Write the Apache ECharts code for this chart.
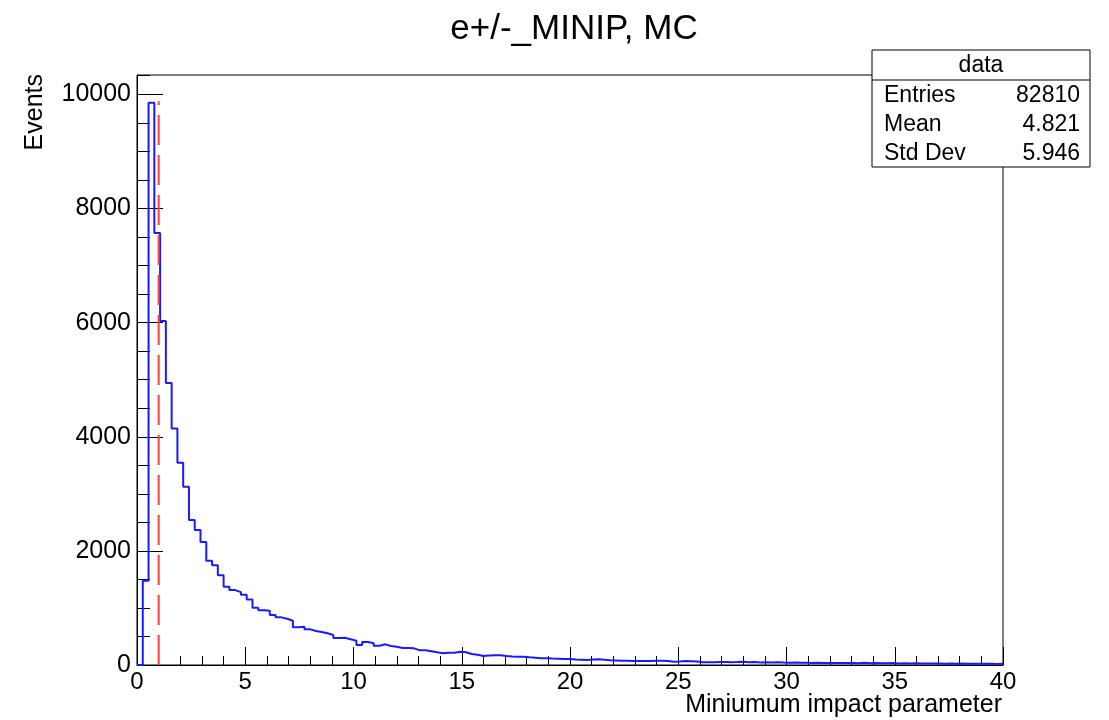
<!DOCTYPE html>
<html>
<head>
<meta charset="utf-8">
<script src="https://cdn.jsdelivr.net/npm/echarts@6/dist/echarts.min.js"></script>
<style>
html,body{margin:0;padding:0;background:#fff;}
#chart{width:1109px;height:720px;}
</style>
</head>
<body>
<div id="chart"></div>
<script>
// ---- data ----
var titleText = "e+/-_MINIP, MC";
var xTitle = "Miniumum impact parameter";
var yTitle = "Events";
var xMin = 0, xMax = 40, nBins = 150;
var yMax = 10340;
var counts = [
  0, 1476, 9855, 7571, 6030, 4944, 4145, 3543, 3123, 2540,
  2364, 2154, 1827, 1746, 1571, 1371, 1313, 1278, 1231, 1150,
  1004, 960, 950, 876, 835, 811, 776, 660, 671, 625,
  595, 578, 555, 525, 473, 478, 450, 426, 350, 403,
  380, 338, 362, 333, 321, 298, 298, 292, 257, 257,
  240, 222, 205, 216, 216, 233, 222, 193, 181, 158,
  165, 170, 170, 158, 150, 146, 145, 135, 128, 120,
  117, 112, 111, 106, 105, 95, 93, 88, 95, 99,
  90, 82, 80, 76, 76, 72, 70, 70, 72, 76,
  74, 70, 58, 60, 70, 65, 60, 47, 50, 47,
  53, 53, 50, 52, 55, 48, 52, 45, 47, 44,
  50, 42, 40, 44, 38, 41, 36, 40, 35, 37,
  34, 36, 33, 35, 30, 38, 32, 34, 29, 31,
  33, 28, 30, 27, 29, 26, 28, 25, 27, 24,
  26, 22, 25, 23, 21, 24, 20, 22, 19, 21
];
var cutX = [1.0, 1.0];
var cutY = [0, 9880];
var statsHeader = "data";
var statsNames = ["Entries", "Mean", "Std Dev"];
var statsValues = ["82810", "4.821", "5.946"];

// ---- build ----
var binW = (xMax - xMin) / nBins;
var histPts = [];
for (var i = 0; i < counts.length; i++) histPts.push([xMin + i * binW, counts[i]]);
histPts.push([xMax, counts[counts.length - 1]]);
var cutPts = [[cutX[0], cutY[0]], [cutX[1], cutY[1]]];

var FONT = "'Liberation Sans', Arial, Helvetica, sans-serif";
var chart = echarts.init(document.getElementById('chart'), null, {renderer: 'canvas'});

var statsEls = [
  {type: 'rect', shape: {x: 872, y: 50, width: 218, height: 117},
   style: {fill: '#fff', stroke: '#000', lineWidth: 1}, z: 100},
  {type: 'line', shape: {x1: 872, y1: 80, x2: 1090, y2: 80},
   style: {stroke: '#000', lineWidth: 1}, z: 101},
  {type: 'text', x: 981, y: 66, z: 101,
   style: {text: statsHeader, font: '23px ' + FONT, fill: '#000', align: 'center', verticalAlign: 'middle'}}
];
for (var k = 0; k < statsNames.length; k++) {
  statsEls.push({type: 'text', x: 884, y: 96 + k * 29, z: 101,
    style: {text: statsNames[k], font: '23px ' + FONT, fill: '#000', align: 'left', verticalAlign: 'middle'}});
  statsEls.push({type: 'text', x: 1080, y: 96 + k * 29, z: 101,
    style: {text: statsValues[k], font: '23px ' + FONT, fill: '#000', align: 'right', verticalAlign: 'middle'}});
}
statsEls.push({type: 'text', x: 35, y: 74, rotation: Math.PI / 2, z: 101,
  style: {text: yTitle, font: '25px ' + FONT, fill: '#000', align: 'right', verticalAlign: 'middle'}});
statsEls.push({type: 'text', x: 1002, y: 705, z: 101,
  style: {text: xTitle, font: '25px ' + FONT, fill: '#000', align: 'right', verticalAlign: 'middle'}});

var option = {
  animation: false,
  backgroundColor: '#fff',
  title: {
    text: titleText, left: 569, top: 7, textAlign: 'center',
    textStyle: {fontFamily: FONT, fontSize: 35, fontWeight: 'normal', color: '#000'}
  },
  grid: {left: 137, right: 106, top: 75, bottom: 55, show: true,
    borderColor: '#000', borderWidth: 1, backgroundColor: 'transparent'},
  xAxis: {
    type: 'value', min: xMin, max: xMax, interval: 5,
    axisLine: {show: true, lineStyle: {color: '#000', width: 1}},
    axisTick: {show: true, inside: true, length: 18, lineStyle: {color: '#000', width: 1}},
    minorTick: {show: true, splitNumber: 5, length: 9, lineStyle: {color: '#000', width: 1}},
    axisLabel: {color: '#000', fontFamily: FONT, fontSize: 24, margin: 5},
    splitLine: {show: false}
  },
  yAxis: [
    {
      type: 'value', min: 0, max: yMax, interval: 2000,
      axisLine: {show: true, lineStyle: {color: '#000', width: 1}},
      axisTick: {show: true, inside: true, length: 26, lineStyle: {color: '#000', width: 1}},
      axisLabel: {color: '#000', fontFamily: FONT, fontSize: 25, margin: 6,
        showMaxLabel: false,
        formatter: function (v) { return (v % 2000 === 0) ? String(v) : ''; }},
      splitLine: {show: false}
    },
    {
      type: 'value', min: 0, max: yMax, interval: 500, position: 'left',
      axisLine: {show: false},
      axisTick: {show: true, inside: true, length: 13, lineStyle: {color: '#000', width: 1}},
      axisLabel: {show: false},
      splitLine: {show: false}
    }
  ],
  series: [
    {
      type: 'line', step: 'end', data: histPts, yAxisIndex: 0,
      symbol: 'none', showSymbol: false,
      lineStyle: {color: '#1a1aff', width: 2}, z: 3
    },
    {
      type: 'line', data: cutPts, yAxisIndex: 0,
      symbol: 'none', showSymbol: false,
      lineStyle: {color: '#ff4040', width: 2, type: [30, 10]}, z: 4
    }
  ],
  graphic: statsEls
};
chart.setOption(option);
</script>
</body>
</html>
